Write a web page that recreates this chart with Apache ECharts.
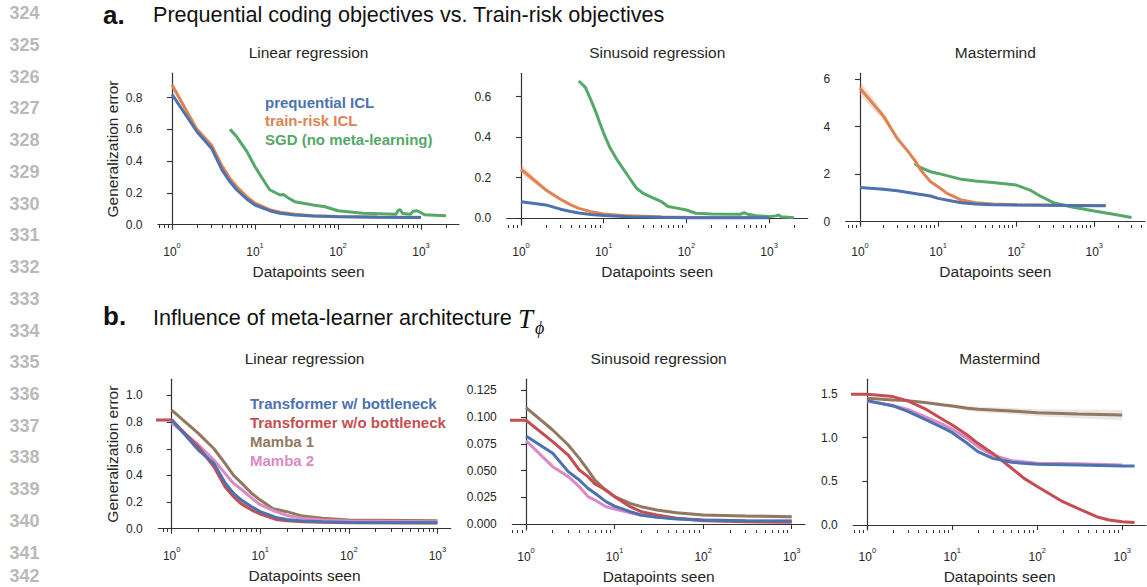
<!DOCTYPE html>
<html><head><meta charset="utf-8">
<script src="https://cdn.jsdelivr.net/npm/echarts@6/dist/echarts.min.js"></script>
<style>html,body{margin:0;padding:0;background:#fff}#c{width:1147px;height:587px}</style>
</head><body><div id="c"></div>
<script>
// ---------- data (x = datapoints seen, y = generalization error) ----------
// a. Linear regression
const aLinX = [1,2,3,4,5,6,8,10,15,20,30,50,100,300,1000];
const aLinPreq = [0.82,0.585,0.48,0.345,0.27,0.22,0.16,0.124,0.088,0.072,0.061,0.055,0.05,0.047,0.046];
const aLinTrain = [0.88,0.60,0.50,0.37,0.29,0.24,0.175,0.135,0.095,0.078,0.065,0.057,0.052,0.048,0.047];
const aLinTrainLo = [0.855,0.59,0.492,0.362,0.284,0.235,0.171,0.132,0.093,0.076,0.064,0.056,0.051,0.047,0.046];
const aLinTrainHi = [0.905,0.61,0.508,0.378,0.296,0.245,0.179,0.138,0.097,0.080,0.066,0.058,0.053,0.049,0.048];
const aLinSgdX = [5,6,8,10,13,15,20,22,25,30,50,70,100,200,500,530,560,600,750,800,900,1000,1100,2000];
const aLinSgd = [0.60,0.555,0.46,0.365,0.27,0.22,0.187,0.19,0.17,0.145,0.124,0.113,0.088,0.072,0.066,0.09,0.095,0.07,0.066,0.085,0.088,0.075,0.063,0.057];
// a. Sinusoid regression
const aSinX = [1,2,3,4,5,7,10,20,50,100,300,1000];
const aSinPreq = [0.082,0.066,0.045,0.034,0.026,0.019,0.014,0.008,0.005,0.003,0.003,0.003];
const aSinTrain = [0.242,0.14,0.094,0.066,0.049,0.033,0.021,0.012,0.007,0.005,0.004,0.004];
const aSinTrainLo = [0.218,0.130,0.088,0.062,0.046,0.031,0.020,0.011,0.0065,0.0045,0.0035,0.0035];
const aSinTrainHi = [0.266,0.150,0.100,0.070,0.052,0.035,0.022,0.013,0.0075,0.0055,0.0045,0.0045];
const aSinSgdX = [5,6,7,8,9,10,12,15,20,25,30,40,50,60,80,100,130,200,450,500,550,700,1000,1200,1300,1400,2000];
const aSinSgd = [0.677,0.646,0.584,0.526,0.469,0.419,0.345,0.279,0.205,0.148,0.123,0.099,0.082,0.058,0.049,0.041,0.025,0.021,0.02,0.028,0.02,0.013,0.008,0.012,0.016,0.008,0.003];
// a. Mastermind
const aMmX = [1,2,3,5,8,10,15,20,30,50,100,300,1000,1400];
const aMmPreq = [1.44,1.36,1.30,1.19,1.08,0.98,0.87,0.80,0.74,0.715,0.70,0.69,0.67,0.67];
const aMmTrainX = [1,2,3,4,5,6,8,10,13,16,20,30,50,100,300,1000,1400];
const aMmTrain = [5.61,4.44,3.50,3.01,2.59,2.17,1.68,1.47,1.19,1.05,0.91,0.80,0.74,0.715,0.69,0.68,0.68];
const aMmTrainLo = [5.30,4.27,3.40,2.94,2.54,2.13,1.65,1.45,1.17,1.04,0.90,0.79,0.735,0.71,0.685,0.675,0.675];
const aMmTrainHi = [5.92,4.61,3.60,3.08,2.64,2.21,1.71,1.49,1.21,1.06,0.92,0.81,0.745,0.72,0.695,0.685,0.685];
const aMmSgdX = [5,6,8,10,20,30,50,100,150,200,300,500,1000,2000,3000];
const aMmSgd = [2.45,2.27,2.10,2.03,1.78,1.71,1.65,1.54,1.33,1.09,0.80,0.63,0.45,0.28,0.18];
// b. Linear regression
const bLinX = [1,2,3,4,5,6,8,10,15,20,30,50,100,1000];
const bLinRedX = [0.5,1,2,3,4,5,6,8,10,15,20,30,50,100,1000];
const bLinRed = [0.815,0.815,0.615,0.465,0.315,0.24,0.19,0.14,0.11,0.07,0.06,0.052,0.048,0.045,0.0425];
const bLinBlue = [0.82,0.59,0.49,0.345,0.265,0.22,0.165,0.128,0.085,0.07,0.058,0.052,0.0475,0.045];
const bLinBrownX = [1,2,3,4,5,6,8,10,14,20,30,50,100,1000];
const bLinBrown = [0.89,0.715,0.60,0.49,0.40,0.35,0.265,0.215,0.15,0.128,0.095,0.078,0.065,0.06];
const bLinPink = [0.795,0.63,0.515,0.415,0.34,0.30,0.23,0.18,0.128,0.10,0.078,0.065,0.058,0.052];
// b. Sinusoid regression
const bSinX = [1,2,3,4,5,6,8,10,15,20,30,50,100,300,1000];
const bSinRedX = [0.5,1,2,3,4,5,6,8,10,15,20,30,50,100,300,1000];
const bSinRed = [0.097,0.097,0.077,0.0645,0.0505,0.0443,0.0374,0.0318,0.0256,0.0162,0.0115,0.0084,0.0053,0.0031,0.002,0.0016];
const bSinBlue = [0.0823,0.0661,0.049,0.0411,0.0334,0.0287,0.0209,0.0168,0.0115,0.0084,0.0062,0.0047,0.0037,0.003,0.0028];
const bSinBrown = [0.1088,0.0879,0.0739,0.0614,0.0505,0.0411,0.0312,0.0256,0.0193,0.0162,0.0131,0.0106,0.0084,0.0075,0.0069];
const bSinBrownLo = [0.1070,0.0864,0.0726,0.0602,0.0494,0.0401,0.0303,0.0247,0.0184,0.0152,0.0120,0.0094,0.0070,0.0060,0.0052];
const bSinBrownHi = [0.1106,0.0894,0.0752,0.0626,0.0516,0.0421,0.0321,0.0265,0.0202,0.0172,0.0142,0.0118,0.0098,0.0090,0.0086];
const bSinPink = [0.0779,0.0536,0.0443,0.0349,0.0256,0.0224,0.0162,0.014,0.0106,0.0081,0.0065,0.0053,0.0037,0.003,0.0028];
// b. Mastermind
const bMmX = [1,2,3,5,8,10,15,20,30,50,100,300,1000,1400];
const bMmRedX = [0.5,1,2,3,5,8,10,15,20,30,50,70,100,200,300,500,700,1000,1400];
const bMmRed = [1.496,1.496,1.47,1.42,1.32,1.20,1.145,1.03,0.935,0.82,0.65,0.534,0.44,0.267,0.19,0.095,0.057,0.038,0.03];
const bMmBlue = [1.424,1.363,1.30,1.20,1.107,1.057,0.935,0.84,0.763,0.718,0.695,0.687,0.676,0.676];
const bMmPinkX = [1,2,3,5,8,10,15,20,30,50,100,300,1000];
const bMmPink = [1.416,1.37,1.324,1.233,1.145,1.095,0.992,0.897,0.80,0.737,0.706,0.70,0.687];
const bMmBrownX = [1,2,3,5,8,10,15,20,50,100,300,1000];
const bMmBrown = [1.45,1.43,1.424,1.40,1.374,1.363,1.336,1.324,1.305,1.286,1.271,1.26];
const bMmBrownLo = [1.44,1.42,1.412,1.385,1.354,1.343,1.311,1.294,1.27,1.246,1.221,1.20];
const bMmBrownHi = [1.46,1.44,1.436,1.415,1.394,1.383,1.361,1.354,1.34,1.326,1.321,1.32];

// tick labels
const xDecades = [0,1,2,3];
const yTicksALin = [0,0.2,0.4,0.6,0.8];
const yTicksASin = [0,0.2,0.4,0.6];
const yTicksAMm = [0,2,4,6];
const yTicksBLin = [0,0.2,0.4,0.6,0.8,1.0];
const yTicksBSin = [0,0.025,0.05,0.075,0.1,0.125];
const yTicksBMm = [0,0.5,1.0,1.5];

const legendA = ['prequential ICL','train-risk ICL','SGD (no meta-learning)'];
const legendB = ['Transformer w/ bottleneck','Transformer w/o bottleneck','Mamba 1','Mamba 2'];
const subTitles = ['Linear regression','Sinusoid regression','Mastermind','Linear regression','Sinusoid regression','Mastermind'];
const lineNumbers = [324,325,326,327,328,329,330,331,332,333,334,335,336,337,338,339,340,341,342];

// ---------- style / layout ----------
const FONT = "'Liberation Sans', Arial, Helvetica, sans-serif";
const SERIF = "'Liberation Serif', 'DejaVu Serif', serif";
const INK = '#262626';
const AX = '#333333';
const BLUE = '#4C72B0', ORANGE = '#DD8452', GREEN = '#55A868', RED = '#C44E52', BROWN = '#937860', PINK = '#DA8BC3';

const panels = [
  {g:[158,73,301,152],       x:[-0.169,3.458], y:[-0.002,0.955],   ticks:yTicksALin, dec:1, yName:true},
  {g:[506.7,73.3,301,151.7], x:[-0.173,3.467], y:[-0.033,0.715],   ticks:yTicksASin, dec:1},
  {g:[845.7,73.3,299.3,151.7], x:[-0.183,3.65], y:[-0.139,6.24],   ticks:yTicksAMm,  dec:0},
  {g:[158.3,379.3,292.4,149.7], x:[-0.151,3.15], y:[-0.002,1.121], ticks:yTicksBLin, dec:1, yName:true},
  {g:[512.3,379.3,292.7,150.7], x:[-0.155,3.15], y:[-0.0056,0.1353], ticks:yTicksBSin, dec:3},
  {g:[853.3,379.3,292.7,150.7], x:[-0.165,3.28], y:[-0.057,1.668], ticks:yTicksBMm, dec:1}
];

function minorTicks(lo, hi) {
  const out = [];
  for (let j = -1; j <= 3; j++) for (let k = 2; k <= 9; k++) {
    const v = Math.log10(k * Math.pow(10, j));
    if (v >= lo && v <= hi) out.push(v);
  }
  return out;
}

const grids = [], xAxes = [], yAxes = [];
panels.forEach((p, i) => {
  const dec = xDecades.filter(v => v >= p.x[0] && v <= p.x[1]);
  grids.push({left:p.g[0], top:p.g[1], width:p.g[2], height:p.g[3], containLabel:false, outerBoundsMode:'none'});
  xAxes.push({
    type:'value', gridIndex:i, position:'bottom', min:p.x[0], max:p.x[1],
    splitLine:{show:false},
    axisLine:{show:true, lineStyle:{color:AX, width:1.2}},
    axisTick:{show:true, customValues:dec, length:5, lineStyle:{color:AX, width:1.1}},
    axisLabel:{
      customValues:dec, margin:16,
      formatter: v => '{b|10}{s|' + Math.round(v) + '}',
      rich:{
        b:{fontSize:12, fontFamily:FONT, color:INK, lineHeight:22, verticalAlign:'middle'},
        s:{fontSize:7.5, fontFamily:FONT, color:INK, lineHeight:10, verticalAlign:'top'}
      }
    },
    name:'Datapoints seen', nameLocation:'middle', nameGap:38,
    nameTextStyle:{fontSize:15.5, fontFamily:FONT, color:INK}
  });
  xAxes.push({
    type:'value', gridIndex:i, position:'bottom', min:p.x[0], max:p.x[1],
    splitLine:{show:false}, axisLine:{show:false},
    axisTick:{show:true, customValues:minorTicks(p.x[0], p.x[1]), length:3, lineStyle:{color:AX, width:1}},
    axisLabel:{show:false}
  });
  yAxes.push({
    type:'value', gridIndex:i, min:p.y[0], max:p.y[1],
    splitLine:{show:false},
    axisLine:{show:true, lineStyle:{color:AX, width:1.2}},
    axisTick:{show:true, customValues:p.ticks, length:5, lineStyle:{color:AX, width:1.1}},
    axisLabel:{customValues:p.ticks, margin:15.5, fontSize:12, fontFamily:FONT, color:INK,
      formatter: v => Number(v).toFixed(p.dec)},
    name: p.yName ? 'Generalization error' : '', nameLocation:'middle', nameGap:38,
    nameTextStyle:{fontSize:15.5, fontFamily:FONT, color:INK}
  });
});

function pts(xs, ys) { return xs.map((x, i) => [Math.log10(x), ys[i]]); }
function line(p, name, xs, ys, color) {
  return {type:'line', name, xAxisIndex:2*p, yAxisIndex:p, data:pts(xs, ys),
    symbol:'none', showSymbol:false, clip:true, silent:true,
    lineStyle:{width:3, color}, itemStyle:{color}};
}
function band(p, xs, lo, hi, fill) {
  return {type:'custom', name:'band'+p, xAxisIndex:2*p, yAxisIndex:p, silent:true, clip:true,
    data: xs.map((x, i) => [Math.log10(x), lo[i], hi[i]]),
    encode:{x:0, y:[1,2]},
    renderItem:(params, api) => {
      if (params.dataIndexInside !== 0) return null;
      const n = params.dataInsideLength, up = [], dn = [];
      for (let i = 0; i < n; i++) {
        up.push(api.coord([api.value(0, i), api.value(2, i)]));
        dn.push(api.coord([api.value(0, i), api.value(1, i)]));
      }
      return {type:'polygon', shape:{points: up.concat(dn.reverse())}, style:{fill}};
    }};
}

const series = [
  band(0, aLinX, aLinTrainLo, aLinTrainHi, 'rgba(221,132,82,0.25)'),
  line(0, legendA[1], aLinX, aLinTrain, ORANGE),
  line(0, legendA[2], aLinSgdX, aLinSgd, GREEN),
  line(0, legendA[0], aLinX, aLinPreq, BLUE),

  band(1, aSinX, aSinTrainLo, aSinTrainHi, 'rgba(221,132,82,0.25)'),
  line(1, legendA[1], aSinX, aSinTrain, ORANGE),
  line(1, legendA[2], aSinSgdX, aSinSgd, GREEN),
  line(1, legendA[0], aSinX, aSinPreq, BLUE),

  band(2, aMmTrainX, aMmTrainLo, aMmTrainHi, 'rgba(221,132,82,0.25)'),
  line(2, legendA[2], aMmSgdX, aMmSgd, GREEN),
  line(2, legendA[1], aMmTrainX, aMmTrain, ORANGE),
  line(2, legendA[0], aMmX, aMmPreq, BLUE),

  line(3, legendB[2], bLinBrownX, bLinBrown, BROWN),
  line(3, legendB[3], bLinX, bLinPink, PINK),
  line(3, legendB[1], bLinRedX, bLinRed, RED),
  line(3, legendB[0], bLinX, bLinBlue, BLUE),

  band(4, bSinX, bSinBrownLo, bSinBrownHi, 'rgba(147,120,96,0.22)'),
  line(4, legendB[2], bSinX, bSinBrown, BROWN),
  line(4, legendB[3], bSinX, bSinPink, PINK),
  line(4, legendB[1], bSinRedX, bSinRed, RED),
  line(4, legendB[0], bSinX, bSinBlue, BLUE),

  band(5, bMmBrownX, bMmBrownLo, bMmBrownHi, 'rgba(160,150,135,0.22)'),
  line(5, legendB[2], bMmBrownX, bMmBrown, BROWN),
  line(5, legendB[3], bMmPinkX, bMmPink, PINK),
  line(5, legendB[1], bMmRedX, bMmRed, RED),
  line(5, legendB[0], bMmX, bMmBlue, BLUE)
];

function legendCfg(names, colors, left, top, pitch) {
  return {orient:'vertical', left, top, padding:0, icon:'none', itemWidth:0, itemHeight:pitch, itemGap:0,
    selectedMode:false,
    data: names.map((n, i) => ({name:n, textStyle:{color:colors[i]}})),
    textStyle:{fontSize:15, fontWeight:'bold', fontFamily:FONT, lineHeight:pitch}};
}

const graphics = [];
lineNumbers.forEach((n, i) => graphics.push({type:'text', x:39.5, y:Math.min(13.3 + i*31.72, 576),
  style:{text:String(n), align:'right', verticalAlign:'middle', fontSize:18, fontWeight:'bold', fontFamily:FONT, fill:'#b9b9b9'}}));
graphics.push({type:'text', x:103, y:14.5, style:{text:'a.', verticalAlign:'middle', fontSize:26, fontWeight:'bold', fontFamily:FONT, fill:'#111'}});
graphics.push({type:'text', x:153, y:14, style:{text:'Prequential coding objectives vs. Train-risk objectives', verticalAlign:'middle', fontSize:21.6, fontFamily:FONT, fill:'#111'}});
graphics.push({type:'text', x:103, y:316, style:{text:'b.', verticalAlign:'middle', fontSize:26, fontWeight:'bold', fontFamily:FONT, fill:'#111'}});
graphics.push({type:'text', x:153, y:317.5, style:{text:'Influence of meta-learner architecture', verticalAlign:'middle', fontSize:21.6, fontFamily:FONT, fill:'#111'}});
graphics.push({type:'text', x:518, y:319, style:{text:'T', verticalAlign:'middle', fontSize:27, fontStyle:'italic', fontFamily:SERIF, fill:'#111'}});
graphics.push({type:'text', x:535, y:328, style:{text:'\u03D5', verticalAlign:'middle', fontSize:18, fontStyle:'italic', fontFamily:SERIF, fill:'#111'}});
panels.forEach((p, i) => graphics.push({type:'text', x:p.g[0] + p.g[2]/2, y: i < 3 ? 52.7 : 358.3,
  style:{text:subTitles[i], align:'center', verticalAlign:'middle', fontSize:15.5, fontFamily:FONT, fill:INK}}));

const chart = echarts.init(document.getElementById('c'), null, {renderer:'svg', width:1147, height:587});
chart.setOption({
  animation:false,
  backgroundColor:'#ffffff',
  grid:grids, xAxis:xAxes, yAxis:yAxes, series,
  legend:[
    legendCfg(legendA, [BLUE, ORANGE, GREEN], 260, 92.75, 18.5),
    legendCfg(legendB, [BLUE, RED, BROWN, PINK], 245, 394.6, 18.7)
  ],
  graphic:graphics
});
</script></body></html>
